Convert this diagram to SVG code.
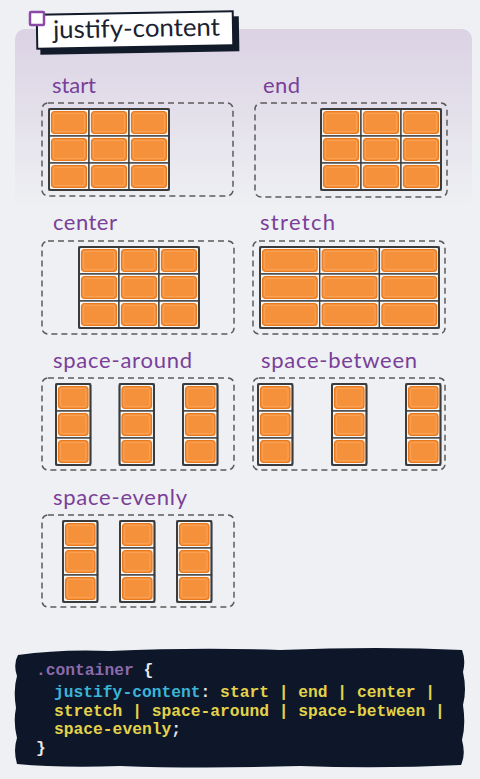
<svg xmlns="http://www.w3.org/2000/svg" xmlns:xlink="http://www.w3.org/1999/xlink" width="480" height="779" viewBox="0 0 480 779">
<defs>
<linearGradient id="pg" x1="0" y1="0" x2="0" y2="1">
<stop offset="0" stop-color="#dbd2e4"/>
<stop offset="1" stop-color="#eef0f3"/>
</linearGradient>
<style>
.lbl{font-family:"Lato","Open Sans",sans-serif;font-size:22px;fill:#7a3f99;}
.dash{fill:none;stroke:#5b5b5b;stroke-width:1.5;stroke-dasharray:6 4;}
.cf{fill:#f6f6f6;stroke:#3b3b3b;stroke-width:1.3;}
.co{fill:#f6913b;stroke:#e97a1e;stroke-width:1.2;}
.ch{fill:none;stroke:#fbae6a;stroke-width:1;opacity:0.6;}
.frame{fill:none;stroke:#3b3b3b;stroke-width:2;}
.code{font-family:"Liberation Mono","DejaVu Sans Mono",monospace;font-size:16.3px;font-weight:bold;}
.pu{fill:#8c6aab;}
.wh{fill:#e8e8e8;}
.cy{fill:#3cb4d8;}
.ye{fill:#e3d24a;}
</style>
<g id="k40"><rect width="40" height="27" class="cf"/><rect x="2.5" y="2.5" width="35" height="22" rx="3" class="co"/><rect x="4.5" y="4.5" width="31" height="18" rx="2" class="ch"/></g>
<g id="k60"><rect width="59.7" height="27" class="cf"/><rect x="2.5" y="2.5" width="54.7" height="22" rx="3" class="co"/><rect x="4.5" y="4.5" width="50.7" height="18" rx="2" class="ch"/></g>
<g id="k34"><rect width="34.5" height="27" class="cf"/><rect x="2.5" y="2.5" width="29.5" height="22" rx="3" class="co"/><rect x="4.5" y="4.5" width="25.5" height="18" rx="2" class="ch"/></g>
<g id="g3x3"><use xlink:href="#k40" x="0" y="0"/><use xlink:href="#k40" x="40" y="0"/><use xlink:href="#k40" x="80" y="0"/><use xlink:href="#k40" x="0" y="27"/><use xlink:href="#k40" x="40" y="27"/><use xlink:href="#k40" x="80" y="27"/><use xlink:href="#k40" x="0" y="54"/><use xlink:href="#k40" x="40" y="54"/><use xlink:href="#k40" x="80" y="54"/><rect width="120" height="81" rx="2" class="frame"/></g>
<g id="col"><use xlink:href="#k34" x="0" y="0"/><use xlink:href="#k34" x="0" y="27"/><use xlink:href="#k34" x="0" y="54"/><rect width="34.5" height="81" rx="2" class="frame"/></g>
</defs>
<rect width="480" height="779" fill="#eef0f3"/>
<rect x="15" y="29" width="457" height="180" rx="10" fill="url(#pg)"/>

<g id="title">
<g transform="rotate(-1 135 30)">
<rect x="40" y="18" width="199" height="35" fill="#121b2a"/>
<rect x="37" y="13" width="196" height="34" fill="#ffffff" stroke="#121b2a" stroke-width="2"/>
<text x="53" y="37" font-family="Lato,'Open Sans',sans-serif" font-size="25" fill="#1a2232" textLength="167" lengthAdjust="spacingAndGlyphs">justify-content</text>
</g>
<rect x="30" y="12" width="14" height="13" rx="1" fill="#ffffff" stroke="#8b4aa8" stroke-width="2.5"/>
</g>

<g id="start">
<text x="52" y="93" class="lbl" textLength="44">start</text>
<rect x="42" y="103" width="191" height="93" rx="6" class="dash"/>
<use xlink:href="#g3x3" x="49" y="109"/>
</g>

<g id="end">
<text x="263" y="93" class="lbl" textLength="37">end</text>
<rect x="255" y="103" width="192" height="94" rx="6" class="dash"/>
<use xlink:href="#g3x3" x="321" y="109"/>
</g>

<g id="center">
<text x="53" y="230" class="lbl" textLength="64">center</text>
<rect x="42" y="241" width="192" height="93" rx="6" class="dash"/>
<use xlink:href="#g3x3" x="79" y="247"/>
</g>

<g id="stretch">
<text x="260" y="230" class="lbl" textLength="75">stretch</text>
<rect x="253" y="241" width="192" height="93" rx="6" class="dash"/>
<g transform="translate(260 247)">
<use xlink:href="#k60" x="0" y="0"/><use xlink:href="#k60" x="59.7" y="0"/><use xlink:href="#k60" x="119.4" y="0"/>
<use xlink:href="#k60" x="0" y="27"/><use xlink:href="#k60" x="59.7" y="27"/><use xlink:href="#k60" x="119.4" y="27"/>
<use xlink:href="#k60" x="0" y="54"/><use xlink:href="#k60" x="59.7" y="54"/><use xlink:href="#k60" x="119.4" y="54"/>
<rect width="179" height="81" rx="2" class="frame"/>
</g>
</g>

<g id="space-around">
<text x="53" y="368" class="lbl" textLength="139">space-around</text>
<rect x="42" y="378" width="192" height="92" rx="6" class="dash"/>
<use xlink:href="#col" x="56" y="384"/>
<use xlink:href="#col" x="119.5" y="384"/>
<use xlink:href="#col" x="183" y="384"/>
</g>

<g id="space-between">
<text x="261" y="368" class="lbl" textLength="156">space-between</text>
<rect x="253" y="378" width="192" height="92" rx="6" class="dash"/>
<use xlink:href="#col" x="258" y="384"/>
<use xlink:href="#col" x="332" y="384"/>
<use xlink:href="#col" x="406" y="384"/>
</g>

<g id="space-evenly">
<text x="53" y="505" class="lbl" textLength="134">space-evenly</text>
<rect x="42" y="515" width="192" height="92" rx="6" class="dash"/>
<use xlink:href="#col" x="63" y="521"/>
<use xlink:href="#col" x="120" y="521"/>
<use xlink:href="#col" x="177" y="521"/>
</g>

<g id="code">
<path d="M18 655 Q60 649 110 651 Q200 647 280 650 Q380 646 462 650 Q466 660 463 672 Q467 690 463 705 Q466 725 462 740 Q466 755 461 765 Q380 769 300 766 Q200 769 120 766 Q60 768 17 764 Q13 750 17 738 Q13 722 16 708 Q13 690 17 676 Q13 664 18 655 Z" fill="#0d1729"/>
<text x="36" y="675" class="code"><tspan class="pu">.container</tspan><tspan class="wh"> {</tspan></text>
<text x="54" y="697" class="code"><tspan class="cy">justify-content</tspan><tspan class="wh">:</tspan><tspan class="ye"> start | end | center |</tspan></text>
<text x="54" y="716" class="code ye">stretch | space-around | space-between |</text>
<text x="54" y="734" class="code"><tspan class="ye">space-evenly</tspan><tspan class="wh">;</tspan></text>
<text x="36" y="753" class="code wh">}</text>
</g>
</svg>
